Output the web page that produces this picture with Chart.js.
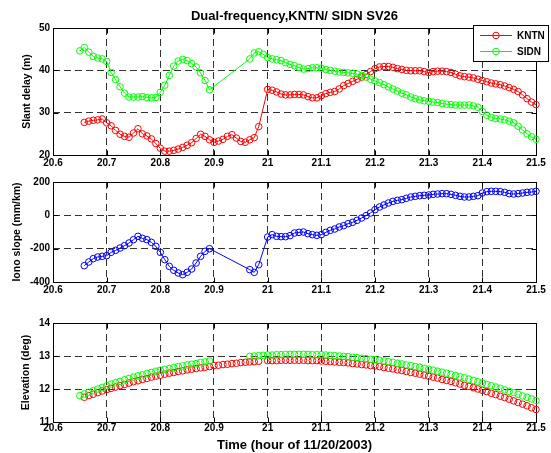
<!DOCTYPE html>
<html>
<head>
<meta charset="utf-8">
<script src="https://cdn.jsdelivr.net/npm/chart.js@4.4.0/dist/chart.umd.min.js"></script>
<style>
    body { margin: 0; background: #fff; }
    #wrap { position: relative; width: 551px; height: 453px; overflow: hidden; }
    canvas { position: absolute; left: 0; }
</style>
</head>
<body>
<div id="wrap">
    <canvas id="delayChart" width="551" height="175" style="top:0px"></canvas>
    <canvas id="ionoChart" width="551" height="130" style="top:170px"></canvas>
    <canvas id="elevChart" width="551" height="153" style="top:300px"></canvas>
</div>
<script>
// 30 s samples starting 20.65 h (index 0) up to 21.5 h (index 102)
const startHour = 20.65;
const sampleStep = 1 / 120;
const sampleCount = 103;

const xTicks = [20.6, 20.7, 20.8, 20.9, 21.0, 21.1, 21.2, 21.3, 21.4, 21.5];
const delayTicks = [20, 30, 40, 50];
const ionoTicks = [-400, -200, 0, 200];
const elevTicks = [11, 12, 13, 14];

// slant delay (m)
const kntnDelay = [null,
    27.7, 28.0, 28.2, 28.3, 28.5, 27.6, 26.9, 25.8, 24.9, 24.4,
    24.2, 25.2, 26.2, 25.0, 24.5, 23.8, 22.7, 21.6, 20.9, 20.9,
    21.1, 21.4, 21.8, 22.3, 22.9, 23.9, 24.9, 24.4, 23.6, 23.0,
    23.3, 23.7, 24.4, 24.8, 24.0, 23.2, 23.0, 23.6, 24.1, 26.7,
    null, 35.5, 35.3, 34.9, 34.4, 34.2, 34.2, 34.3, 34.3, 34.2,
    33.8, 33.5, 33.5, 34.0, 34.5, 34.8, 35.0, 35.6, 36.4, 36.9,
    37.4, 37.9, 38.4, 39.0, 39.7, 40.4, 40.8, 40.9, 40.9, 40.7,
    40.4, 40.2, 40.0, 39.9, 39.9, 39.9, 39.7, 39.5, 39.7, 39.8,
    39.8, 39.7, 39.5, 39.1, 38.7, 38.5, 38.4, 38.2, 37.9, 37.6,
    37.3, 37.0, 36.8, 36.6, 36.3, 35.9, 35.5, 35.0, 34.2, 33.3,
    32.5, 31.9];
const sidnDelay = [44.6,
    45.4, 44.3, 43.3, 42.9, 42.7, 42.1, 39.5, 37.8, 36.1, 34.6,
    33.7, 33.7, 33.7, 33.8, 33.6, 33.5, 33.6, 34.8, 36.5, 38.8,
    41.0, 42.2, 42.6, 42.3, 41.6, 40.8, 39.4, 37.6, 35.4, null,
    null, null, null, null, null, null, null, 42.7, 44.1, 44.4,
    43.8, 43.0, 42.7, 42.5, 42.3, 41.8, 41.4, 41.1, 40.7, 40.3,
    40.4, 40.6, 40.6, 40.5, 40.2, 40.0, 39.8, 39.6, 39.5, 39.4,
    39.3, 39.1, 38.8, 38.4, 37.9, 37.5, 37.1, 36.6, 36.1, 35.6,
    35.1, 34.6, 34.2, 33.7, 33.3, 33.0, 32.8, 32.7, 32.5, 32.4,
    32.2, 32.0, 31.9, 31.8, 31.8, 31.8, 31.8, 31.6, 31.3, 30.3,
    29.4, 28.9, 28.6, 28.5, 28.3, 28.0, 27.6, 26.8, 25.9, 25.0,
    24.3, 23.7];

// iono slope (mm/km)
const ionoSlope = [null,
    -302, -280, -260, -250, -246, -242, -222, -210, -196, -182,
    -166, -146, -126, -138, -146, -162, -186, -222, -266, -306,
    -330, -346, -356, -342, -322, -286, -246, -216, -200, null,
    null, null, null, null, null, null, null, -326, -342, -296,
    null, -130, -116, -126, -128, -128, -122, -106, -102, -100,
    -110, -116, -120, -116, -102, -90, -82, -70, -62, -50,
    -42, -30, -16, -2, 14, 34, 50, 62, 74, 84,
    90, 94, 102, 110, 114, 118, 120, 122, 126, 128,
    130, 130, 126, 120, 114, 110, 110, 114, 118, 134,
    142, 144, 144, 142, 138, 130, 128, 130, 134, 138,
    140, 144];

// elevation (deg)
const kntnElev = [null,
    11.75, 11.80, 11.84, 11.89, 11.94, 11.98, 12.02, 12.06, 12.10, 12.14,
    12.18, 12.22, 12.25, 12.29, 12.32, 12.36, 12.39, 12.42, 12.45, 12.48,
    12.50, 12.53, 12.55, 12.58, 12.60, 12.62, 12.64, 12.66, 12.68, 12.71,
    12.72, 12.74, 12.75, 12.77, 12.78, 12.80, 12.81, 12.82, 12.83, 12.84,
    null, 12.86, 12.86, 12.86, 12.87, 12.87, 12.87, 12.87, 12.87, 12.87,
    12.86, 12.86, 12.86, 12.85, 12.84, 12.83, 12.82, 12.81, 12.80, 12.79,
    12.77, 12.76, 12.74, 12.73, 12.71, 12.70, 12.68, 12.65, 12.63, 12.61,
    12.58, 12.56, 12.53, 12.50, 12.48, 12.45, 12.42, 12.39, 12.36, 12.33,
    12.29, 12.26, 12.23, 12.19, 12.15, 12.11, 12.08, 12.04, 12.00, 11.96,
    11.92, 11.87, 11.83, 11.78, 11.74, 11.69, 11.64, 11.59, 11.54, 11.49,
    11.43, 11.38];
const sidnElev = [11.80,
    11.85, 11.90, 11.95, 12.00, 12.05, 12.10, 12.15, 12.19, 12.23, 12.28,
    12.32, 12.36, 12.40, 12.43, 12.47, 12.50, 12.54, 12.57, 12.60, 12.62,
    12.65, 12.68, 12.70, 12.73, 12.75, 12.77, 12.80, 12.82, 12.85, null,
    null, null, null, null, null, null, null, 12.99, 13.00, 13.01,
    13.02, 13.03, 13.03, 13.04, 13.04, 13.05, 13.05, 13.05, 13.05, 13.05,
    13.05, 13.04, 13.04, 13.04, 13.03, 13.02, 13.01, 13.00, 12.99, 12.98,
    12.96, 12.95, 12.93, 12.92, 12.90, 12.89, 12.87, 12.85, 12.83, 12.81,
    12.78, 12.76, 12.73, 12.71, 12.68, 12.66, 12.63, 12.60, 12.57, 12.54,
    12.51, 12.48, 12.44, 12.41, 12.37, 12.34, 12.30, 12.26, 12.22, 12.18,
    12.14, 12.10, 12.06, 12.02, 11.97, 11.93, 11.89, 11.84, 11.79, 11.75,
    11.70, 11.65];

const sampleHours = [];
for (let i = 0; i < sampleCount; i++) {
    sampleHours.push(startHour + i * sampleStep);
}

function toPoints(values) {
    return values.map((v, i) => ({ x: sampleHours[i], y: v }));
}

Chart.defaults.font.family = '"Liberation Sans", Arial, sans-serif';
Chart.defaults.font.weight = 'bold';
Chart.defaults.color = '#000';

const GRID = 'rgba(0, 0, 0, 0.8)';
const TICK_LEN = 5;

// axes box + inward tick marks, drawn under the data like matlab's default layer
const boxPlugin = {
    id: 'box',
    beforeDatasetsDraw(chart) {
        const { ctx, chartArea: a, scales } = chart;
        const l = Math.round(a.left) + 0.5;
        const t = Math.round(a.top) + 0.5;
        const r = Math.round(a.right) + 0.5;
        const b = Math.round(a.bottom) + 0.5;
        ctx.save();
        ctx.strokeStyle = '#000';
        ctx.lineWidth = 1;
        ctx.strokeRect(l, t, r - l, b - t);
        ctx.beginPath();
        scales.x.ticks.forEach(tk => {
            const x = Math.round(scales.x.getPixelForValue(tk.value)) + 0.5;
            ctx.moveTo(x, b); ctx.lineTo(x, b - TICK_LEN);
            ctx.moveTo(x, t); ctx.lineTo(x, t + TICK_LEN);
        });
        scales.y.ticks.forEach(tk => {
            const y = Math.round(scales.y.getPixelForValue(tk.value)) + 0.5;
            ctx.moveTo(l, y); ctx.lineTo(l + TICK_LEN, y);
            ctx.moveTo(r, y); ctx.lineTo(r - TICK_LEN, y);
        });
        ctx.stroke();
        ctx.restore();
    }
};

function series(label, values, color, showLine, order) {
    return {
        label: label,
        data: toPoints(values),
        borderColor: color,
        backgroundColor: color,
        borderWidth: 1,
        showLine: showLine,
        spanGaps: true,
        pointStyle: 'circle',
        pointRadius: 3.3,
        pointBorderWidth: 1,
        pointBackgroundColor: 'rgba(0,0,0,0)',
        pointBorderColor: color,
        clip: false,
        order: order
    };
}

function makeOptions(cfg) {
    const yMin = cfg.yTicks[0];
    const yMax = cfg.yTicks[cfg.yTicks.length - 1];
    return {
        responsive: false,
        animation: false,
        devicePixelRatio: 1,
        layout: { padding: { top: cfg.padTop, right: 15, bottom: 0, left: 0 } },
        plugins: { legend: { display: false }, tooltip: { enabled: false } },
        scales: {
            x: {
                type: 'linear',
                min: 20.6,
                max: 21.5,
                afterFit: s => { s.height = cfg.xHeight; },
                afterBuildTicks: s => { s.ticks = xTicks.map(v => ({ value: v })); },
                ticks: {
                    padding: cfg.xPad,
                    autoSkip: false,
                    maxRotation: 0,
                    font: { size: 10, weight: 'bold' },
                    callback: v => String(Number(v.toFixed(1)))
                },
                grid: {
                    drawTicks: false,
                    lineWidth: 1,
                    color: c => (c.tick && (c.tick.value <= 20.6 || c.tick.value >= 21.5)) ? 'rgba(0,0,0,0)' : GRID
                },
                border: { display: false, dash: [7, 4] },
                title: {
                    display: !!cfg.xTitle,
                    text: cfg.xTitle || '',
                    font: { size: 13, weight: 'bold' },
                    padding: { top: 0, bottom: 0 }
                }
            },
            y: {
                min: yMin,
                max: yMax,
                afterFit: s => { s.width = 53; },
                afterBuildTicks: s => { s.ticks = cfg.yTicks.map(v => ({ value: v })); },
                ticks: { padding: 3, font: { size: 10, weight: 'bold' } },
                grid: {
                    drawTicks: false,
                    lineWidth: 1,
                    color: c => (c.tick && (c.tick.value <= yMin || c.tick.value >= yMax)) ? 'rgba(0,0,0,0)' : GRID
                },
                border: { display: false, dash: [7, 4] },
                title: {
                    display: true,
                    text: cfg.yTitle,
                    font: { size: 10.5, weight: 'bold' },
                    padding: { top: cfg.yTitlePad, bottom: 0 }
                }
            }
        }
    };
}

function renderDelayChart() {
    const titlePlugin = {
        id: 'topTitle',
        afterDraw(chart) {
            const ctx = chart.ctx;
            ctx.save();
            ctx.font = 'bold 13px "Liberation Sans", Arial, sans-serif';
            ctx.fillStyle = '#000';
            ctx.textAlign = 'center';
            ctx.textBaseline = 'middle';
            ctx.fillText('Dual-frequency,KNTN/ SIDN SV26', 294.5, 16);
            ctx.restore();
        }
    };
    const legendPlugin = {
        id: 'boxLegend',
        afterDraw(chart) {
            const ctx = chart.ctx;
            const entries = [['KNTN', '#ff0000', 35], ['SIDN', '#00ff00', 51]];
            ctx.save();
            ctx.fillStyle = '#fff';
            ctx.fillRect(473.5, 25.5, 75, 36);
            ctx.strokeStyle = '#000';
            ctx.lineWidth = 1;
            ctx.strokeRect(473.5, 25.5, 75, 36);
            ctx.font = 'bold 10px "Liberation Sans", Arial, sans-serif';
            ctx.textBaseline = 'middle';
            entries.forEach(([name, color, y]) => {
                ctx.strokeStyle = color;
                ctx.beginPath();
                ctx.moveTo(480, y + 0.5);
                ctx.lineTo(512, y + 0.5);
                ctx.stroke();
                ctx.beginPath();
                ctx.arc(496, y + 0.5, 3.3, 0, Math.PI * 2);
                ctx.stroke();
                ctx.fillStyle = '#000';
                ctx.fillText(name, 517, y + 1);
            });
            ctx.restore();
        }
    };
    new Chart(document.getElementById('delayChart'), {
        type: 'scatter',
        data: {
            datasets: [
                series('KNTN', kntnDelay, '#ff0000', true, 1),
                series('SIDN', sidnDelay, '#00ff00', true, 0)
            ]
        },
        options: makeOptions({ padTop: 28, xHeight: 20, xPad: 2, yTicks: delayTicks, yTitle: 'Slant delay (m)', yTitlePad: 21 }),
        plugins: [boxPlugin, titlePlugin, legendPlugin]
    });
}

function renderIonoChart() {
    new Chart(document.getElementById('ionoChart'), {
        type: 'scatter',
        data: {
            datasets: [series('Iono', ionoSlope, '#0000ff', true, 0)]
        },
        options: makeOptions({ padTop: 12, xHeight: 18, xPad: 2, yTicks: ionoTicks, yTitle: 'Iono slope (mm/km)', yTitlePad: 10.5 }),
        plugins: [boxPlugin]
    });
}

function renderElevChart() {
    new Chart(document.getElementById('elevChart'), {
        type: 'scatter',
        data: {
            datasets: [
                series('KNTN', kntnElev, '#ff0000', false, 1),
                series('SIDN', sidnElev, '#00ff00', false, 0)
            ]
        },
        options: makeOptions({ padTop: 23, xHeight: 31, xPad: 0, yTicks: elevTicks, yTitle: 'Elevation (deg)', yTitlePad: 19.5, xTitle: 'Time (hour of 11/20/2003)' }),
        plugins: [boxPlugin]
    });
}

renderDelayChart();
renderIonoChart();
renderElevChart();
</script>
</body>
</html>
